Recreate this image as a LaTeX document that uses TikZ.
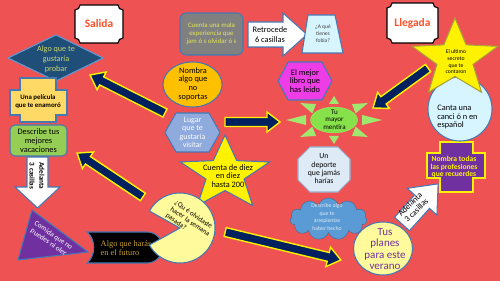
\documentclass[tikz,border=0pt]{standalone}
\usepackage{fontspec}
\setmainfont{Carlito}
\newfontfamily\futurofont{Liberation Serif}
\usetikzlibrary{shapes.geometric,shapes.symbols,calc}

\definecolor{bgred}{RGB}{239,82,82}
\definecolor{edgeblue}{RGB}{70,120,180}
\definecolor{navy}{RGB}{0,32,96}
\definecolor{salidared}{RGB}{255,80,40}
\definecolor{diamondblue}{RGB}{31,78,121}
\definecolor{diamondtext}{RGB}{200,215,110}
\definecolor{crossyellow}{RGB}{255,217,102}
\definecolor{leafgreen}{RGB}{150,205,85}
\definecolor{violet}{RGB}{112,48,160}
\definecolor{gold}{RGB}{200,160,50}
\definecolor{paleyellow}{RGB}{255,250,155}
\definecolor{lavender}{RGB}{143,170,220}
\definecolor{orangegold}{RGB}{255,192,0}
\definecolor{slate}{RGB}{128,128,128}
\definecolor{lemon}{RGB}{225,230,90}
\definecolor{palecyan}{RGB}{215,245,255}
\definecolor{magentafill}{RGB}{238,60,230}
\definecolor{sungreen}{RGB}{135,225,75}
\definecolor{icewhite}{RGB}{222,235,247}
\definecolor{octedge}{RGB}{150,175,205}
\definecolor{cloudblue}{RGB}{91,155,213}
\definecolor{cloudedge}{RGB}{65,113,156}
\definecolor{olive}{RGB}{170,160,60}

\begin{document}
\begin{tikzpicture}[
  x=0.04cm, y=0.04cm,
  box/.style={draw=edgeblue, line width=1.2pt},
  txt/.style={align=center, inner sep=0pt},
  plaque/.style={draw=black, line width=1.3pt, fill=white},
  plaquetxt/.style={txt, text=salidared, font=\fontsize{13}{15}\selectfont\bfseries},
  navyarrow/.style={fill=navy, draw=yellow, line width=1.6pt},
  sunray/.style={fill=sungreen!80!white}
]
\path[use as bounding box, fill=bgred] (0,0) rectangle (500,281);

% start and finish
\draw[plaque] (75,271) arc[start angle=270,end angle=360,radius=5] -- (118,276)
  arc[start angle=180,end angle=270,radius=5] -- (123,243)
  arc[start angle=90,end angle=180,radius=5] -- (80,238)
  arc[start angle=0,end angle=90,radius=5] -- cycle;
\node[plaquetxt] (salida) at (99,257) {Salida};
\draw[plaque] (387,273) arc[start angle=270,end angle=360,radius=5] -- (433,278)
  arc[start angle=180,end angle=270,radius=5] -- (438,243)
  arc[start angle=90,end angle=180,radius=5] -- (392,238)
  arc[start angle=0,end angle=90,radius=5] -- cycle;
\node[plaquetxt] (llegada) at (412.5,258) {Llegada};

% left column
\draw[box, draw=cloudblue, fill=diamondblue] (8,223) -- (56,246) -- (103,223) -- (56,200) -- cycle;
\node[txt, text=diamondtext, font=\fontsize{9.3}{11.4}\selectfont] (probar) at (56,222) {Algo que te\\gustaría\\probar};

\draw[box, fill=crossyellow] (20,203) -- (56,203) -- (56,191) -- (67,191) -- (67,166) -- (56,166)
  -- (56,159) -- (20,159) -- (20,166) -- (10,166) -- (10,191) -- (20,191) -- cycle;
\node[txt, font=\fontsize{7.8}{9}\selectfont\bfseries] (pelicula) at (38,179) {Una película\\que te enamoró};

\node[box, fill=leafgreen, rounded corners=2mm, minimum width=2.28cm, minimum height=1.24cm,
  txt, font=\fontsize{9.5}{10.2}\selectfont] (vacaciones) at (38.5,140.5) {Describe tus\\mejores\\vacaciones};

\draw[box, fill=white] (27,124) -- (48,124) -- (48,94) -- (60,94) -- (37.5,73) -- (15,94) -- (27,94) -- cycle;
\node[txt, rotate=-90, font=\fontsize{8.2}{11}\selectfont\bfseries] (adelantaA) at (37,105) {Adelanta\\3 casillas};

\draw[box, fill=violet] (32,71) -- (88,29) -- (18,21) -- cycle;
\node[txt, rotate=-35, text=white, font=\fontsize{8.3}{9.5}\selectfont] (comida) at (51,42) {Comida que no\\puedes ni oler};

\draw[box, fill=black] (87,49) -- (147,49) arc[start angle=90,end angle=-90,radius=15.5] -- (87,18)
  .. controls (96,25) and (96,42) .. (87,49) -- cycle;
\node[txt, align=left, text=gold, font=\futurofont\fontsize{9.5}{10.2}\selectfont] (futuro) at (126,33) {Algo que harás\\en el futuro};

% middle
\begin{scope}[shift={(225,107)}]
  \draw[box, fill=yellow] (90:47 and 39) \foreach \k in {0,...,4} { -- ({126+72*\k}:20 and 16.5) -- ({162+72*\k}:47 and 39) } -- cycle;
\end{scope}
\node[txt, font=\fontsize{9.5}{10}\selectfont] (diez) at (228,105) {Cuenta de diez\\en diez\\hasta 200};

\draw[box, fill=paleyellow] (180,53) -- +(209:35) arc[start angle=209,end angle=511,radius=35] -- cycle;
\node[txt, align=left, rotate=-35, font=\fontsize{8}{9}\selectfont] (semana) at (190,59) {¿Qu é olvidaste\\hacer la semana\\pasada?};

\draw[box, fill=lavender] (165,148.5) -- (176,168) -- (209,168) -- (220,148.5) -- (209,129) -- (176,129) -- cycle;
\node[txt, text=white, font=\fontsize{9}{9.6}\selectfont] (lugar) at (192.5,148.5) {Lugar\\que te\\gustaría\\visitar};

\node[box, ellipse, fill=orangegold, minimum width=2.36cm, minimum height=1.8cm, inner sep=0pt] (nombra) at (192.5,196.5) {};
\node[txt, font=\fontsize{9.5}{10}\selectfont] (nombratxt) at (193,197) {Nombra\\algo que\\no\\soportas};

\node[box, fill=slate, rounded corners=2.5mm, minimum width=2.52cm, minimum height=1.68cm,
  txt, text=lemon, font=\fontsize{7.8}{9}\selectfont] (mala) at (211.5,247) {Cuenta una mala\\experiencia que\\jam ó s olvidar ó s};

\draw[box, fill=white] (248,234) -- (283,234) -- (283,225) -- (307,246.5) -- (283,268) -- (283,259) -- (248,259) -- cycle;
\node[txt, font=\fontsize{9.5}{10.6}\selectfont] (retrocede) at (270,246.5) {Retrocede\\6 casillas};

\draw[box, fill=palecyan] (302,228) -- (343,228) -- (335,266) -- (308,266) -- cycle;
\node[txt, text=black!75, font=\fontsize{6.3}{8}\selectfont] (fobia) at (323,247) {¿A qué\\tienes\\fobia?};

\draw[box, fill=magentafill] (278,200) -- (288,219) -- (322,219) -- (332,200) -- (322,181) -- (288,181) -- cycle;
\node[txt, font=\fontsize{9.5}{10}\selectfont] (libro) at (305,200) {El mejor\\libro que\\has leido};

% sun
\begin{scope}[shift={(334,161)}]
  \foreach \a in {0,45,...,315}
    \fill[sunray] (\a:48 and 24) -- ($(\a:28 and 16)!2mm!90:(\a:48 and 24)$)
      -- ($(\a:28 and 16)!2mm!-90:(\a:48 and 24)$) -- cycle;
\end{scope}
\node[ellipse, fill=sungreen, draw=sungreen!80!white, minimum width=1.88cm, minimum height=1.04cm] (sol) at (334,161) {};
\node[txt, font=\fontsize{8}{8.6}\selectfont] (mentira) at (334.5,161.5) {Tu\\mayor\\mentira};

\draw[box, draw=octedge, fill=icewhite] (310,134) -- (338,134) -- (350,122) -- (350,101) -- (338,89)
  -- (310,89) -- (298,101) -- (298,122) -- cycle;
\node[txt, font=\fontsize{8.8}{9.5}\selectfont] (deporte) at (324,112) {Un\\deporte\\que jamás\\harías};

\node[cloud, cloud puffs=11, aspect=1.8, fill=cloudblue, draw=cloudedge, line width=0.6pt,
  minimum width=3.08cm, minimum height=1.68cm, inner sep=0pt] (nube) at (328.5,62) {};
\node[txt, text=icewhite, font=\fontsize{6.5}{9}\selectfont] (arrepientas) at (327,64) {Describe algo\\que te\\arrepientas\\haber hecho};

% right side
\node[box, ellipse, fill=paleyellow, minimum width=2.36cm, minimum height=2.12cm] (planes) at (383,32.5) {};
\node[txt, text=violet, font=\fontsize{12.5}{13.2}\selectfont] (planestxt) at (385,32) {Tus\\planes\\para este\\verano};

\begin{scope}[shift={(402,57)}, rotate=48]
  \draw[box, fill=white] (0,-10) -- (30,-10) -- (30,-20) -- (54,0) -- (30,20) -- (30,10) -- (0,10) -- cycle;
  \node[txt, rotate=45, font=\fontsize{9.5}{10}\selectfont] (adelantaB) at (20,3) {Adelanta\\3 casillas};
\end{scope}

\draw[fill=violet, draw=yellow, line width=1.6pt] (440,139) -- (473,139) -- (473,128) -- (485,128)
  -- (485,103) -- (473,103) -- (473,89) -- (440,89) -- (440,103) -- (427,103) -- (427,128) -- (440,128) -- cycle;
\node[txt, text=yellow, font=\fontsize{8.6}{9}\selectfont\bfseries] (profesiones) at (454,114) {Nombra todas\\las profesiones\\que recuerdes};

\node[box, circle, fill=palecyan, minimum size=2.56cm] (canta) at (460,172) {};
\node[txt, align=left, font=\fontsize{9.5}{10}\selectfont] (cantatxt) at (457.5,164) {Canta una\\canci ó n en\\español};

\begin{scope}[shift={(455,222)}]
  \draw[line width=1.2pt, draw=olive, fill=yellow] (90:45 and 41) \foreach \k in {0,...,4} { -- ({126+72*\k}:19 and 17.5) -- ({162+72*\k}:45 and 41) } -- cycle;
\end{scope}
\node[txt, font=\fontsize{6.5}{7.6}\selectfont] (secreto) at (456,219) {El ultimo\\secreto\\que te\\contaron};

% big arrows
\foreach \mx/\my/\ang/\len in {127.5/187/153.1/84, 252.5/159/0/55, 400.5/193/216/68, 110/106/146.3/79, 283/35/-13.6/119}
  \draw[navyarrow, shift={(\mx,\my)}, rotate=\ang] (-\len/2,-4.5) -- ({\len/2-13},-4.5) -- ({\len/2-13},-10)
    -- (\len/2,0) -- ({\len/2-13},10) -- ({\len/2-13},4.5) -- (-\len/2,4.5) -- cycle;
\end{tikzpicture}
\end{document}
